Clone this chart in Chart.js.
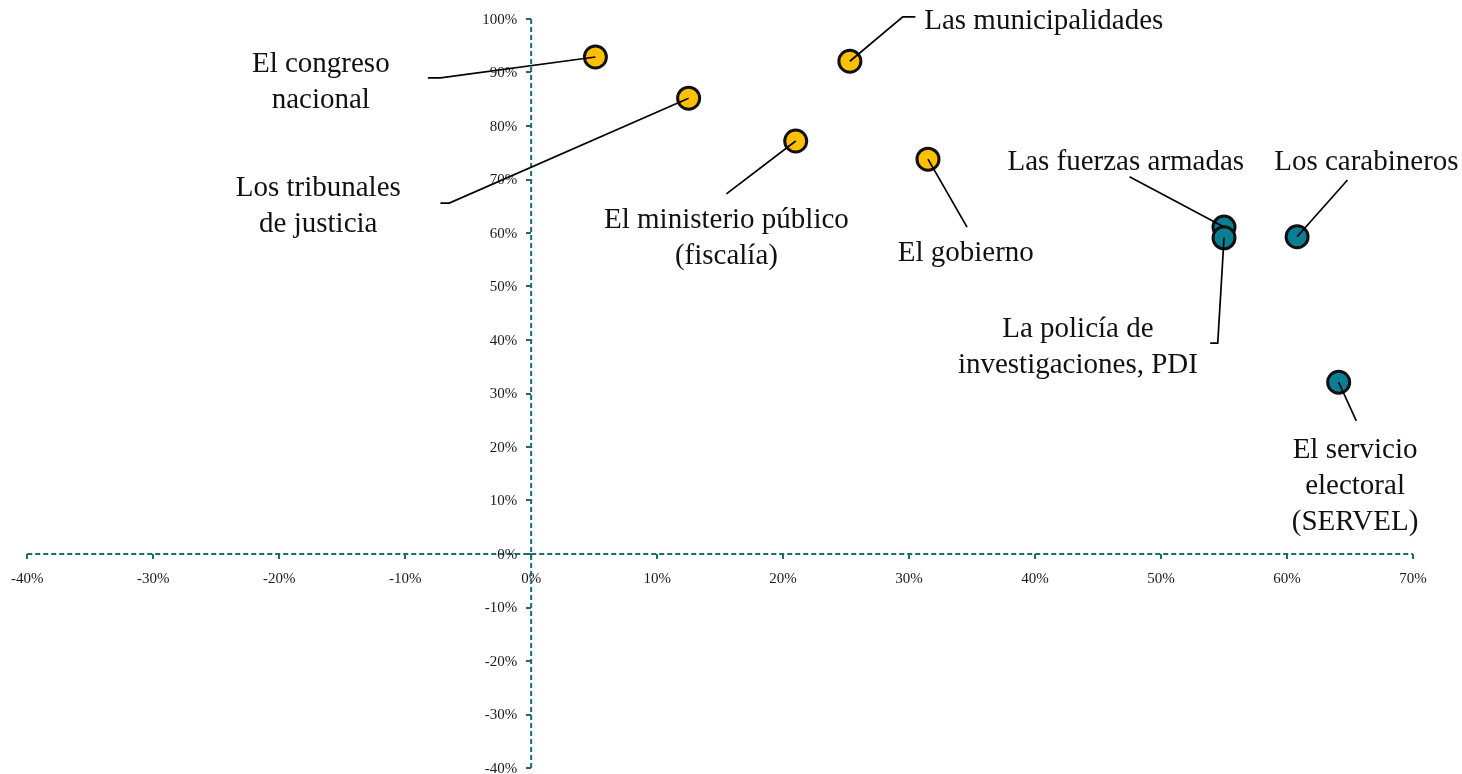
<!DOCTYPE html>
<html>
<head>
<meta charset="utf-8">
<script src="https://cdn.jsdelivr.net/npm/chart.js@4.4.1/dist/chart.umd.min.js"></script>
<style>
  body { margin: 0; background: #fff; }
  #wrap { width: 1462px; height: 774px; }
</style>
</head>
<body>
<div id="wrap"><canvas id="chart" width="1462" height="774"></canvas></div>
<script>
// data

const institutions = ['El congreso nacional', 'Las municipalidades', 'Los tribunales de justicia',
  'El ministerio público (fiscalía)', 'El gobierno', 'Las fuerzas armadas',
  'La policía de investigaciones, PDI', 'Los carabineros', 'El servicio electoral (SERVEL)'];
const xValues = [5.1, 25.3, 12.5, 21.0, 31.5, 55.0, 55.0, 60.8, 64.1];
const yValues = [92.9, 92.1, 85.2, 77.2, 73.8, 61.1, 59.1, 59.3, 32.1];
const groups = [0, 0, 0, 0, 0, 1, 1, 1, 1];
const labelLines = [['El congreso', 'nacional'], ['Las municipalidades'], ['Los tribunales', 'de justicia'],
  ['El ministerio público', '(fiscalía)'], ['El gobierno'], ['Las fuerzas armadas'],
  ['La policía de', 'investigaciones, PDI'], ['Los carabineros'], ['El servicio', 'electoral', '(SERVEL)']];
const xTicks = [-40, 70];
const yTicks = [-40, 100];

// label placement (in axis units) and leader lines

const labelPos = [[-16.7, 88.6], [31.2, 100.0], [-16.9, 65.4], [15.5, 59.4], [34.5, 56.6],
  [47.2, 73.6], [43.4, 38.9], [66.3, 73.6], [65.4, 13.1]];
const labelAlign = ['center', 'left', 'center', 'center', 'center', 'center', 'center', 'center', 'center'];
const leaders = [
  [[-8.2, 89.0], [-7.2, 89.0]],
  [[30.5, 100.4], [29.5, 100.4]],
  [[-7.2, 65.6], [-6.5, 65.6]],
  [[15.5, 67.3]],
  [[34.6, 61.1]],
  [[47.5, 70.5]],
  [[53.9, 39.4], [54.5, 39.4]],
  [[64.8, 69.9]],
  [[65.5, 24.9]]
];

const groupColors = ['#FFC000', '#0A7F93'];
const axisColor = '#1E6A73';
const pct = v => v + '%';

// datasets built from the arrays

const datasets = groupColors.map((c, g) => ({
  data: xValues.map((x, i) => ({ x: x, y: yValues[i] })).filter((p, i) => groups[i] === g),
  backgroundColor: c,
  borderColor: '#111',
  borderWidth: 3,
  pointRadius: 11,
  pointHoverRadius: 11
}));

const labelPlugin = {
  id: 'labelPlugin',
  beforeDatasetsDraw(chart) {
    // dashed axes through zero
    const ctx = chart.ctx, a = chart.chartArea;
    const x0 = chart.scales.x.getPixelForValue(0), y0 = chart.scales.y.getPixelForValue(0);
    ctx.save();
    ctx.strokeStyle = axisColor;
    ctx.lineWidth = 2;
    ctx.setLineDash([5, 3]);
    ctx.beginPath();
    ctx.moveTo(a.left, y0); ctx.lineTo(a.right, y0);
    ctx.moveTo(x0, a.top); ctx.lineTo(x0, a.bottom);
    ctx.stroke();
    ctx.restore();
  },
  afterDatasetsDraw(chart) {
    const ctx = chart.ctx;
    const xs = chart.scales.x, ys = chart.scales.y;
    ctx.save();
    ctx.strokeStyle = '#000';
    ctx.lineWidth = 1.7;
    leaders.forEach((path, i) => {
      ctx.beginPath();
      path.forEach((p, j) => {
        const px = xs.getPixelForValue(p[0]), py = ys.getPixelForValue(p[1]);
        if (j === 0) ctx.moveTo(px, py); else ctx.lineTo(px, py);
      });
      ctx.lineTo(xs.getPixelForValue(xValues[i]), ys.getPixelForValue(yValues[i]));
      ctx.stroke();
    });
    ctx.restore();
  },
  afterDraw(chart) {
    const ctx = chart.ctx;
    const xs = chart.scales.x, ys = chart.scales.y;
    ctx.save();
    // y tick labels, left of the vertical axis
    ctx.fillStyle = '#1a1a1a';
    ctx.font = '15px "Liberation Serif", serif';
    ctx.textAlign = 'right';
    ctx.textBaseline = 'middle';
    const x0 = xs.getPixelForValue(0);
    ys.ticks.forEach(t => ctx.fillText(pct(t.value), x0 - 14, ys.getPixelForValue(t.value) + 1));
    // institution labels
    ctx.fillStyle = '#111';
    ctx.font = '29px "Liberation Serif", serif';
    labelLines.forEach((lines, i) => {
      const cx = xs.getPixelForValue(labelPos[i][0]);
      const cy = ys.getPixelForValue(labelPos[i][1]) + 2;
      ctx.textAlign = labelAlign[i];
      const top = cy - (lines.length - 1) * 18;
      lines.forEach((t, j) => ctx.fillText(t, cx, top + j * 36));
    });
    ctx.restore();
  }
};

const tickFont = { family: '"Liberation Serif", serif', size: 15 };

new Chart(document.getElementById('chart'), {
  type: 'scatter',
  data: { datasets: datasets },
  options: {
    responsive: false,
    animation: false,
    layout: { autoPadding: false, padding: { left: 26, right: 49, top: 19, bottom: 6 } },
    plugins: { legend: { display: false }, tooltip: { enabled: false } },
    scales: {
      x: {
        type: 'linear',
        position: { y: 0 },
        min: xTicks[0],
        max: xTicks[1],
        ticks: { stepSize: 10, color: '#1a1a1a', font: tickFont, padding: 11, callback: pct },
        grid: { drawOnChartArea: false, drawTicks: true, tickLength: 5, color: axisColor, lineWidth: 2 },
        border: { display: false }
      },
      y: {
        type: 'linear',
        position: { x: 0 },
        min: yTicks[0],
        max: yTicks[1],
        ticks: { display: false, stepSize: 10 },
        grid: { drawOnChartArea: false, drawTicks: true, tickLength: 5, color: axisColor, lineWidth: 2 },
        border: { display: false }
      }
    }
  },
  plugins: [labelPlugin]
});
</script>
</body>
</html>
